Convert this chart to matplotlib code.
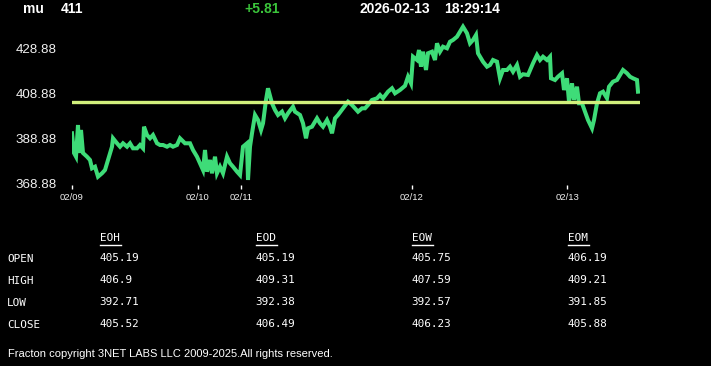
import matplotlib.pyplot as plt

# DATA: intraday price of "mu" (index of the trading bar, price)
bar_index = [
    0, 2, 4, 6, 7, 9, 11, 15, 18, 20, 23, 26, 30, 33, 36, 40, 41, 45, 48, 51,
    55, 58, 61, 65, 68, 71, 72, 75, 78, 81, 85, 88, 91, 95, 98, 101, 105, 108,
    113, 118, 121, 125, 128, 131, 133, 135, 138, 140, 143, 145, 148, 151, 155,
    158, 161, 165, 168, 171, 175, 176, 178, 180, 183, 186, 189, 191, 194, 196,
    200, 203, 206, 210, 213, 216, 221, 223, 228, 231, 234, 236, 240, 245, 248,
    251, 255, 258, 260, 263, 266, 271, 276, 280, 283, 286, 290, 293, 296, 300,
    305, 308, 311, 316, 320, 323, 328, 333, 336, 339, 341, 345, 347, 349, 351,
    354, 356, 360, 363, 365, 368, 371, 375, 378, 381, 385, 388, 391, 395, 398,
    401, 404, 406, 408, 411, 415, 418, 421, 425, 428, 431, 435, 438, 441, 445,
    448, 451, 456, 461, 465, 468, 471, 475, 478, 479, 483, 486, 490, 492, 495,
    497, 500, 502, 505, 507, 510, 513, 516, 520, 522, 525, 528, 531, 535, 537,
    541, 545, 548, 551, 555, 558, 561, 565, 566,
]
price = [
    391.18, 382.46, 380.83, 394.85, 382.46, 392.64, 382.46, 380.83, 379.37, 375.69,
    376.40, 371.98, 373.48, 374.94, 379.37, 385.25, 388.97, 386.76, 385.25, 386.76,
    385.25, 386.76, 384.54, 384.54, 386.00, 384.54, 394.10, 390.43, 388.97, 390.43,
    386.76, 386.00, 386.00, 385.25, 386.00, 385.25, 386.00, 388.97,
    386.76, 386.76, 383.79, 380.83, 377.91, 374.94, 383.79, 374.19, 379.37, 373.48,
    380.83, 373.48, 376.40, 373.48, 380.83,
    377.91, 376.40, 374.19, 372.73, 385.25, 386.76, 370.52, 385.25, 391.18, 399.28,
    397.07, 392.64, 395.61, 405.92, 411.09,
    404.46, 401.49, 399.28, 400.74, 397.82, 400.03, 402.95, 400.74, 399.28, 395.61,
    388.97, 393.39, 394.10, 397.82, 395.61,
    394.10, 397.07, 394.10, 391.18, 397.82, 399.28, 402.24, 405.16, 403.70, 402.24,
    400.74, 402.24, 402.24, 403.70, 405.92,
    406.67, 408.13, 406.67, 409.59, 411.09, 408.88, 410.34, 412.20, 416.20, 413.30,
    425.07, 423.61, 428.04, 420.65, 427.29,
    419.19, 426.58, 427.29, 423.61, 431.00, 427.29, 429.50, 428.79, 431.71, 432.46,
    433.92, 436.14, 438.35, 435.43, 431.00,
    432.46, 434.68, 426.58, 425.07, 422.86, 420.65, 421.40, 423.61, 422.86, 415.52,
    419.19, 419.19, 420.65, 418.44, 421.40,
    416.23, 417.30, 416.98, 422.15, 425.83, 423.61, 425.07, 423.61, 425.07, 415.52,
    414.76, 416.23, 417.73, 410.34, 415.52,
    405.16, 413.30, 405.92, 411.80, 404.46, 404.46, 400.74, 397.07, 393.39, 397.07,
    404.46, 408.88, 409.59, 406.67, 411.80,
    414.01, 414.76, 416.98, 419.19, 417.73, 416.23, 415.52, 414.76, 409.59,
]
prev_close = 405.19
y_ticks = [368.88, 388.88, 408.88, 428.88]
date_ticks = [0, 126, 169, 340, 495]
date_labels = ["02/09", "02/10", "02/11", "02/12", "02/13"]

# table below the chart
row_names = ["OPEN", "HIGH", "LOW", "CLOSE"]
col_names = ["EOH", "EOD", "EOW", "EOM"]
eoh = ["405.19", "406.9", "392.71", "405.52"]
eod = ["405.19", "409.31", "392.38", "406.49"]
eow = ["405.75", "407.59", "392.57", "406.23"]
eom = ["406.19", "409.21", "391.85", "405.88"]

W, H = 711, 366
fig = plt.figure(figsize=(W / 100, H / 100), dpi=100, facecolor="black")


def px(x, y):
    # pixel position -> figure fraction
    return x / W, 1 - y / H


# chart area: pixels 72..640 wide, 20..185 tall
ax = fig.add_axes([72 / W, 1 - 185 / H, 568 / W, 165 / H])
ax.set_facecolor("black")
ax.plot(bar_index, price, color="#3edc78", linewidth=2.9, solid_joinstyle="miter")
ax.axhline(prev_close, color="#d2f07c", linewidth=2.4, zorder=3)
ax.set_xlim(0, 568)
ax.set_ylim(368.30, 441.31)

ax.set_yticks(y_ticks)
ax.set_yticklabels([f"{v:.2f}" for v in y_ticks], color="#f0f0f0",
                   fontsize=9.6, family="Liberation Sans")
ax.set_xticks(date_ticks)
ax.set_xticklabels(date_labels, color="#f0f0f0", fontsize=6.8,
                   family="Liberation Sans")
ax.tick_params(axis="y", length=0, pad=11)
ax.tick_params(axis="x", length=3, width=1, color="white", pad=3, direction="out")
for s in ax.spines.values():
    s.set_visible(False)

# header
hdr = dict(color="white", fontsize=10, fontweight="bold",
           family="Liberation Sans", va="center")
fig.text(*px(23, 9), "mu", **hdr)
fig.text(*px(61, 9), "411", **hdr)
fig.text(*px(244, 9), "+5.81", **{**hdr, "color": "#3bc43b"})
fig.text(*px(359, 9), "2026-02-13", **hdr)
fig.text(*px(444, 9), "18:29:14", **hdr)

# table
mono = dict(color="white", fontsize=7.9, family="DejaVu Sans Mono", va="center")
col_x = [99, 255, 411, 567]
row_y = [258, 280, 302, 324]
for cx, name in zip(col_x, col_names):
    fig.text(*px(cx + 1, 238), name, **mono)
    fig.add_artist(plt.Line2D([(cx + 1) / W, (cx + 22) / W],
                              [1 - 244.5 / H, 1 - 244.5 / H],
                              color="white", linewidth=1))
for ry, name in zip(row_y, row_names):
    fig.text(*px(7, ry + 1), name, **mono)
for cx, vals in zip(col_x, [eoh, eod, eow, eom]):
    for ry, v in zip(row_y, vals):
        fig.text(*px(cx, ry), v, **mono)

# footer
fig.text(*px(8, 354), "Fracton copyright 3NET LABS LLC 2009-2025.All rights reserved.",
         color="white", fontsize=8.0, family="Liberation Sans", va="center")

fig.savefig("out.png", dpi=100, facecolor="black")
